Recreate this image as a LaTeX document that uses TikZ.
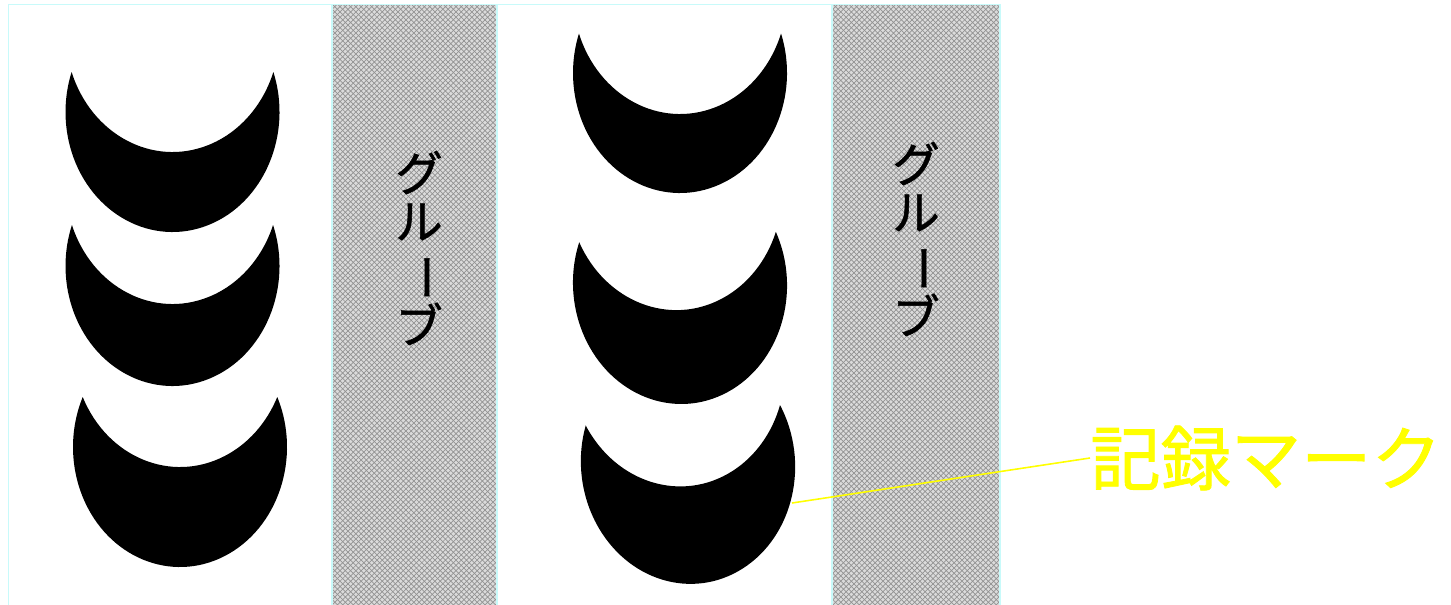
\documentclass[tikz,border=0pt]{standalone}
\usepackage{fontspec}
\newfontfamily\jpfont[FakeBold=1.2]{Noto Sans CJK JP}
\usetikzlibrary{patterns}
\definecolor{frameCyan}{RGB}{200,250,250}
\definecolor{markYellow}{RGB}{255,255,0}

% recording mark: ellipse minus the same ellipse moved up by #3, turned by #4
\newcommand\moonmark[4]{%
  \begin{scope}[rotate around={#4:(#1,#2)}]
    \pgfmathsetmacro\moonang{asin(#3/240)}
    \fill (#1,#2) ++(-\moonang:107 and 120)
      arc[start angle=-\moonang, end angle=180+\moonang, x radius=107, y radius=120]
      arc[start angle=180-\moonang, end angle=\moonang, x radius=107, y radius=120] -- cycle;
  \end{scope}}

\begin{document}
\begin{tikzpicture}[x=0.02cm, y=-0.02cm,
    frame/.style={draw=frameCyan, line width=1.1pt},
    groove/.style={frame, preaction={fill=gray!28},
      preaction={pattern=crosshatch, pattern color=gray!85}},
    groovetext/.style={font=\jpfont\fontsize{27}{27.5}\selectfont, align=center, inner sep=0pt},
    marklabel/.style={font=\jpfont\fontsize{40}{42}\selectfont, text=markYellow, inner sep=0pt, anchor=west}]
  \useasboundingbox (0,0) rectangle (1451,605);
  \clip (0,0) rectangle (1451,605);

  % two panels
  \draw[frame] (8.5,4.5) rectangle (497,620);
  \draw[frame] (497,4.5) rectangle (1000,620);

  % grooves
  \draw[groove] (332,4.5) rectangle (497,620);
  \draw[groove] (832,4.5) rectangle (1000,620);
  \node[groovetext] (grooveL) at (419,248) {グ\\ル\\\rotatebox[origin=c]{-90}{ー}\\ブ};
  \node[groovetext] (grooveR) at (916,239) {グ\\ル\\\rotatebox[origin=c]{-90}{ー}\\ブ};

  % marks, left panel
  \moonmark{172.5}{112}{80}{0}
  \moonmark{172.5}{266}{82}{0}
  \moonmark{180}{447}{100}{0}

  % marks, right panel
  \moonmark{680}{73}{79}{0}
  \moonmark{680}{284}{94}{3}
  \moonmark{688}{464}{98}{6}

  % label
  \coordinate (moonedge) at (792,503);
  \node[marklabel] (recmark) at (1090,458) {記録マーク};
  \draw[markYellow, line width=0.9pt] (moonedge) -- (recmark.west);
\end{tikzpicture}
\end{document}
